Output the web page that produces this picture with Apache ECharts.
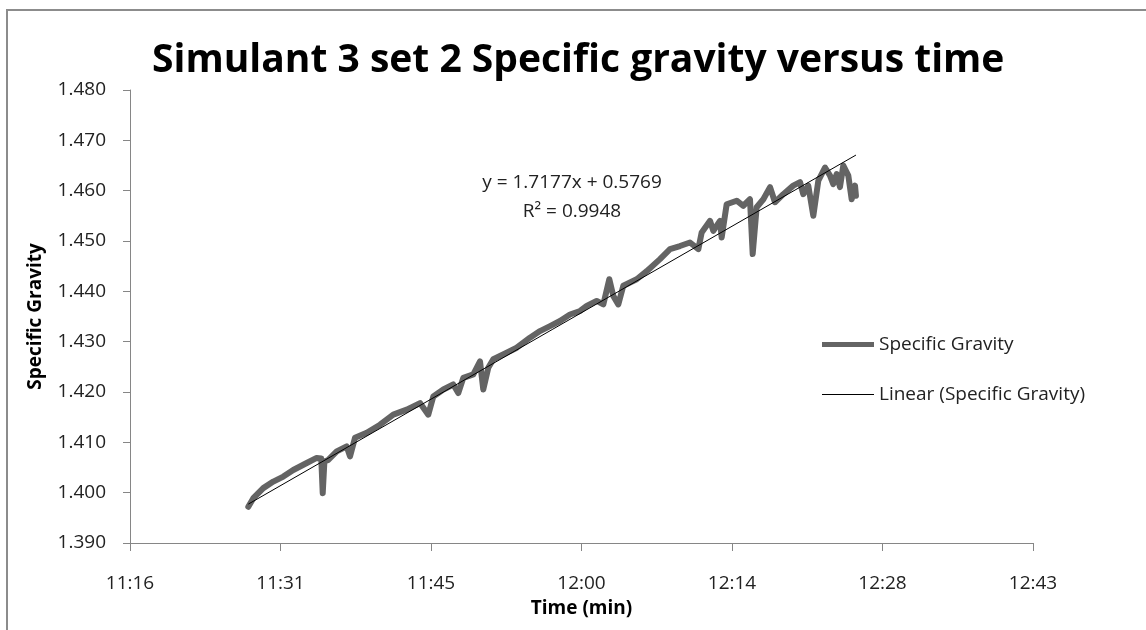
<!DOCTYPE html>
<html>
<head>
<meta charset="utf-8">
<script src="https://cdn.jsdelivr.net/npm/echarts@6/dist/echarts.min.js"></script>
<style>
  html, body { margin: 0; padding: 0; background: #fff; }
  #chart { width: 1146px; height: 630px; }
</style>
</head>
<body>
<div id="chart"></div>
<script>
// time of day in minutes
var timeMin = [688.12, 688.60, 689.55, 690.51, 691.47, 692.42, 693.71, 694.66, 695.10, 695.24, 695.40,
  695.77, 696.58, 697.53, 697.85, 698.33, 699.45, 700.72, 701.99, 703.28, 704.55, 705.34,
  705.82, 706.78, 707.73, 708.21, 708.69, 709.65, 710.29, 710.60, 711.08, 711.56, 712.84,
  713.80, 715.07, 716.03, 716.99, 717.94, 718.90, 719.86, 720.50, 721.45, 722.09, 722.66,
  723.04, 723.52, 724.00, 725.28, 726.24, 727.51, 728.47, 729.42, 730.38, 731.18, 731.50,
  732.30, 732.61, 733.25, 733.41, 733.89, 734.85, 735.48, 736.12, 736.38, 736.76, 737.40,
  738.04, 738.51, 739.31, 740.26, 740.91, 741.22, 741.70, 742.18, 742.66, 743.30, 743.78,
  744.09, 744.42, 744.73, 745.05, 745.53, 745.85, 746.17, 746.26];
var gravity = [1.3972, 1.3989, 1.4009, 1.4022, 1.4032, 1.4045, 1.4059, 1.4069, 1.4068, 1.3999, 1.4062,
  1.4065, 1.4082, 1.4092, 1.4072, 1.4109, 1.4119, 1.4135, 1.4155, 1.4165, 1.4178, 1.4155,
  1.4191, 1.4205, 1.4215, 1.4198, 1.4228, 1.4235, 1.4261, 1.4205, 1.4248, 1.4265, 1.4278,
  1.4288, 1.4308, 1.4321, 1.4331, 1.4341, 1.4354, 1.4361, 1.4371, 1.4381, 1.4374, 1.4424,
  1.4391, 1.4374, 1.4411, 1.4424, 1.4440, 1.4464, 1.4484, 1.4490, 1.4497, 1.4484, 1.4517,
  1.4540, 1.4520, 1.4540, 1.4507, 1.4573, 1.4580, 1.4570, 1.4583, 1.4474, 1.4567, 1.4583,
  1.4607, 1.4577, 1.4593, 1.4610, 1.4617, 1.4593, 1.4610, 1.4550, 1.4620, 1.4646, 1.4630,
  1.4613, 1.4633, 1.4607, 1.4650, 1.4630, 1.4583, 1.4610, 1.4590];

// Excel trendline: y = slope * dayFraction + intercept
var trendSlope = 1.7177;
var trendIntercept = 0.5769;

var chart = echarts.init(document.getElementById('chart'));

function pad(n) { return (n < 10 ? '0' : '') + n; }
function fmtTime(v) {
    var m = Math.floor(v + 1e-6);
    return Math.floor(m / 60) + ':' + pad(m % 60);
}

var seriesData = timeMin.map(function (t, i) { return [t, gravity[i]]; });
var t0 = timeMin[0], t1 = timeMin[timeMin.length - 1];
var trendData = [
    [t0, trendSlope * t0 / 1440 + trendIntercept],
    [t1, trendSlope * t1 / 1440 + trendIntercept]
];

var font = 'Open Sans';
var legendText = { fontFamily: font, fontSize: 19, color: '#222' };
var option = {
    animation: false,
    backgroundColor: '#fff',
    title: {
        text: 'Simulant 3 set 2 Specific gravity versus time',
        left: 147,
        top: 36,
        textStyle: { fontFamily: font, fontSize: 39, fontWeight: 'bold', color: '#000' }
    },
    grid: { left: 130, right: 113, top: 90, bottom: 87 },
    legend: [
        {
            left: 817, top: 330,
            icon: 'rect', itemWidth: 52, itemHeight: 5, itemGap: 6,
            textStyle: legendText,
            data: ['Specific Gravity']
        },
        {
            left: 817, top: 380,
            icon: 'rect', itemWidth: 52, itemHeight: 1, itemGap: 6,
            textStyle: legendText,
            data: ['Linear (Specific Gravity)']
        }
    ],
    xAxis: {
        type: 'value',
        min: 676.8,
        max: 763.2,
        interval: 14.4,
        name: 'Time (min)',
        nameLocation: 'middle',
        nameGap: 56,
        nameTextStyle: { fontFamily: font, fontSize: 19, fontWeight: 'bold', color: '#000' },
        axisLine: { lineStyle: { color: '#868686', width: 1 } },
        axisTick: { show: true, length: 8, lineStyle: { color: '#868686' } },
        axisLabel: { fontFamily: font, fontSize: 19, color: '#222', margin: 31, formatter: fmtTime },
        splitLine: { show: false }
    },
    yAxis: {
        type: 'value',
        min: 1.39,
        max: 1.48,
        interval: 0.01,
        name: 'Specific Gravity',
        nameLocation: 'middle',
        nameGap: 85,
        nameTextStyle: { fontFamily: font, fontSize: 19, fontWeight: 'bold', color: '#000' },
        axisLine: { show: true, lineStyle: { color: '#868686', width: 1 } },
        axisTick: { show: true, length: 7, lineStyle: { color: '#868686' } },
        axisLabel: {
            fontFamily: font, fontSize: 19, color: '#222', margin: 24,
            formatter: function (v) { return v.toFixed(3); }
        },
        splitLine: { show: false }
    },
    graphic: [
        {
            type: 'polyline',
            shape: { points: [[7, 630], [7, 10], [1146, 10]] },
            style: { stroke: '#8c8c8c', lineWidth: 2, fill: null }
        },
        {
            type: 'text',
            x: 572, y: 183,
            style: { text: 'y = 1.7177x + 0.5769', fontFamily: font, fontSize: 19, fill: '#222',
                     align: 'center', verticalAlign: 'middle' }
        },
        {
            type: 'text',
            x: 572, y: 212,
            style: { text: 'R² = 0.9948', fontFamily: font, fontSize: 19, fill: '#222',
                     align: 'center', verticalAlign: 'middle' }
        }
    ],
    series: [
        {
            name: 'Specific Gravity',
            type: 'line',
            data: seriesData,
            showSymbol: false,
            symbol: 'none',
            lineStyle: { color: '#646464', width: 6, join: 'round', cap: 'round' },
            itemStyle: { color: '#646464' },
            z: 2
        },
        {
            name: 'Linear (Specific Gravity)',
            type: 'line',
            data: trendData,
            showSymbol: false,
            symbol: 'none',
            lineStyle: { color: '#000', width: 1 },
            itemStyle: { color: '#000' },
            z: 3
        }
    ]
};
chart.setOption(option);
</script>
</body>
</html>
